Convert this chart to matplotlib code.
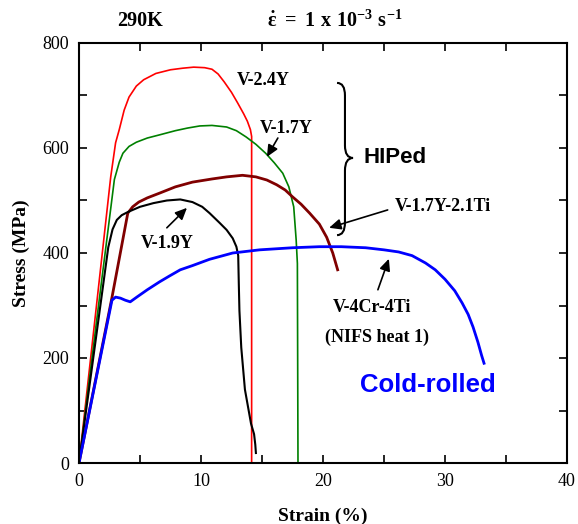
import numpy as np
import matplotlib
matplotlib.use("Agg")
import matplotlib.pyplot as plt
from matplotlib.path import Path
from matplotlib.patches import PathPatch
from matplotlib.ticker import MultipleLocator

# --- Data ---
red_strain = [0, 1.6, 2.6, 3.0, 3.3, 3.7, 4.1, 4.7, 5.3, 6.3, 7.5, 8.5, 9.4, 10.3,
              10.9, 11.4, 11.9, 12.5, 13.0, 13.5, 13.8, 14.05, 14.15, 14.15]
red_stress = [0, 335, 545, 610, 635, 672, 697, 718, 730, 742, 749, 752, 754, 753,
              750, 741, 726, 706, 686, 665, 651, 635, 622, 0]

green_strain = [0, 1.6, 2.9, 3.3, 3.6, 4.1, 4.7, 5.6, 6.6, 7.9, 8.9, 9.9, 10.9, 12.1,
                12.9, 13.7, 14.5, 15.3, 16.0, 16.7, 17.2, 17.6, 17.8, 17.9, 17.95]
green_stress = [0, 300, 540, 573, 590, 603, 611, 619, 625, 633, 638, 642, 643, 640,
                633, 621, 607, 590, 572, 552, 526, 488, 425, 380, 0]

brown_strain = [0, 2.7, 4.0, 4.4, 4.9, 5.6, 6.6, 7.9, 9.3, 10.9, 12.1, 13.4, 14.5,
                15.4, 16.2, 16.9, 17.5, 18.2, 18.9, 19.7, 20.3, 20.8, 21.2]
brown_stress = [0, 315, 476, 488, 497, 505, 514, 526, 535, 541, 545, 548, 545,
                539, 530, 520, 507, 493, 476, 455, 430, 400, 368]

black_strain = [0, 2.4, 2.75, 3.1, 3.5, 4.0, 5.0, 6.1, 7.2, 8.3, 9.3, 10.1, 10.7,
                11.5, 12.1, 12.6, 12.9, 13.05, 13.1, 13.15, 13.3, 13.6, 14.1, 14.35, 14.45, 14.5]
black_stress = [0, 411, 445, 463, 472, 478, 488, 495, 500, 502, 497, 488, 476,
                458, 444, 428, 412, 395, 340, 290, 220, 140, 75, 55, 35, 19]

blue_strain = [0, 2.7, 3.0, 3.4, 3.8, 4.2, 4.8, 5.6, 6.6, 7.4, 8.3, 9.3, 10.7, 12.6,
               14.8, 17.5, 19.7, 21.5, 23.5, 25.0, 26.2, 27.3, 28.4, 29.2, 30.0, 30.8,
               31.4, 31.9, 32.3, 32.7, 33.0, 33.2]
blue_stress = [0, 310, 316, 314, 310, 307, 317, 330, 345, 356, 368, 376, 388, 400,
               406, 410, 412, 412, 410, 406, 402, 395, 381, 368, 350, 328,
               305, 283, 259, 230, 205, 190]

x_ticks = [0, 10, 20, 30, 40]
y_ticks = [0, 200, 400, 600, 800]

serif = "Liberation Serif"
sans = "Liberation Sans"
plt.rcParams["font.family"] = [serif, "DejaVu Serif"]
plt.rcParams["mathtext.fontset"] = "custom"
plt.rcParams["mathtext.rm"] = "Liberation Serif:bold"
plt.rcParams["mathtext.it"] = "Liberation Serif:bold"
plt.rcParams["mathtext.bf"] = "Liberation Serif:bold"

# --- Figure ---
fig = plt.figure(figsize=(5.78, 5.24), dpi=100)
ax = fig.add_axes([79 / 578, 61 / 524, 488 / 578, 420 / 524])

ax.plot(red_strain, red_stress, color="#ff0000", lw=1.2)
ax.plot(green_strain, green_stress, color="#008000", lw=1.2)
ax.plot(brown_strain, brown_stress, color="#800000", lw=2.0)
ax.plot(black_strain, black_stress, color="black", lw=1.5)
ax.plot(blue_strain, blue_stress, color="#0000ff", lw=2.0)

ax.set_xlim(0, 40)
ax.set_ylim(0, 800)
ax.set_xticks(x_ticks)
ax.set_yticks(y_ticks)
ax.xaxis.set_minor_locator(MultipleLocator(5))
ax.yaxis.set_minor_locator(MultipleLocator(100))
ax.tick_params(which="both", direction="in", top=True, right=True,
               length=6, width=1.2, labelsize=13, pad=7)
for s in ax.spines.values():
    s.set_linewidth(1.5)

ax.set_xlabel("Strain (%)", fontsize=14, fontweight="bold", labelpad=13)
ax.set_ylabel("Stress (MPa)", fontsize=14, fontweight="bold", labelpad=9)

# --- Header texts ---
fig.text(0.242, 0.960, "290K", fontsize=14.5, fontweight="bold", ha="center", va="center")
fig.text(0.58, 0.960, r"$\dot{\varepsilon}\ =\ 1\ x\ 10^{-3}\ s^{-1}$",
         fontsize=14.5, ha="center", va="center")

# --- Curve labels ---
lab = dict(fontsize=13, fontweight="bold", va="center")
ax.text(12.9, 728, "V-2.4Y", ha="left", **lab)
ax.text(14.8, 638, "V-1.7Y", ha="left", **lab)
ax.text(5.1, 419, "V-1.9Y", ha="left", **lab)
ax.text(25.9, 488, "V-1.7Y-2.1Ti", ha="left", **lab)
ax.text(24.0, 297, "V-4Cr-4Ti", ha="center", **lab)
ax.text(24.4, 240, "(NIFS heat 1)", ha="center", **lab)

arr = dict(arrowstyle="-|>,head_length=0.7,head_width=0.32", color="black", lw=1.2,
           shrinkA=0, shrinkB=0)
ax.annotate("", xy=(15.4, 583), xytext=(16.3, 619), arrowprops=arr)
ax.annotate("", xy=(8.85, 486), xytext=(7.2, 448), arrowprops=arr)
ax.annotate("", xy=(20.5, 448), xytext=(25.3, 482), arrowprops=arr)
ax.annotate("", xy=(25.4, 389), xytext=(24.5, 330), arrowprops=arr)

# --- Brace for HIPed group ---
verts = [(21.15, 724), (21.8, 724), (21.8, 700), (21.8, 605),
         (21.8, 581), (22.46, 581), (21.8, 581), (21.8, 557),
         (21.8, 458), (21.8, 434), (21.15, 434)]
codes = [Path.MOVETO, Path.CURVE3, Path.CURVE3, Path.LINETO,
         Path.CURVE3, Path.CURVE3, Path.CURVE3, Path.CURVE3,
         Path.LINETO, Path.CURVE3, Path.CURVE3]
ax.add_patch(PathPatch(Path(verts, codes), fill=False, lw=1.5, color="black"))

ax.text(23.3, 581, "HIPed", fontsize=16, fontweight="bold", family=sans,
        ha="left", va="center")
ax.text(28.6, 149, "Cold-rolled", fontsize=18.5, fontweight="bold", family=sans,
        color="#0000ff", ha="center", va="center")

plt.savefig("out.png", dpi=100)
plt.close()
